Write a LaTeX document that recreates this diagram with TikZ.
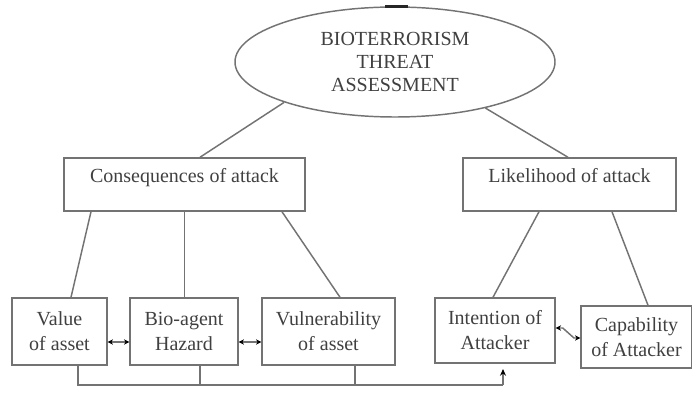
\documentclass[tikz,border=0pt]{standalone}
\usepackage{fontspec}
\setmainfont{Liberation Serif}
\usetikzlibrary{arrows.meta}
\usetikzlibrary{shapes.geometric, positioning}

\begin{document}
\begin{tikzpicture}[
    x=0.75pt, y=-0.75pt,
    >=Stealth,
    color=black!55, line width=1.1pt,
    every node/.style={font=\fontsize{15}{18.75}\selectfont, text=black!75},
    ell/.style={ellipse, draw, align=center, minimum width=240pt, minimum height=82.5pt,
        font=\fontsize{15}{17.25}\selectfont},
    hd/.style={draw, inner xsep=0pt, inner ysep=0pt, text height=18.75pt, text depth=21pt},
    lf/.style={draw, align=center, inner sep=2pt},
    dbl/.style={{Stealth[length=4pt,width=4pt,black]}-{Stealth[length=4pt,width=4pt,black]}},
]
    \useasboundingbox (0,0) rectangle (692,395);

    \node[ell] (threat) at (395,62) {BIOTERRORISM\\THREAT\\ASSESSMENT};
    \node[hd, minimum width=180.75pt, anchor=base] (cons) at (184.5,183) {Consequences of attack\hspace{8pt}};
    \node[hd, minimum width=159.75pt, anchor=base] (like) at (569.5,183) {Likelihood of attack};

    \node[lf, minimum width=71.25pt, minimum height=50.25pt] (value)  at (59.5,331.5)  {Value\\of asset};
    \node[lf, minimum width=81pt,    minimum height=50.25pt] (bio)    at (184,331.5)   {Bio-agent\\Hazard};
    \node[lf, minimum width=99.75pt, minimum height=50.25pt] (vuln)   at (328.5,331.5) {Vulnerability\\of asset};
    \node[lf, minimum width=90pt,    minimum height=48.75pt] (intent) at (495,330.5)   {Intention of\\Attacker};
    \node[lf, minimum width=83.25pt, minimum height=46.5pt]  (cap)    at (636.5,337)   {Capability\\of Attacker};

    % mark on top of the ellipse
    \draw[line width=2.2pt, black!85] (385,0 |- threat.north) -- (408,0 |- threat.north);

    % threat -> cons, like
    \draw (threat.200) -- (200,0 |- cons.north);
    \draw (threat.-27) -- (568,0 |- like.north);

    % cons -> value, bio, vuln
    \draw (91,0 |- cons.south) -- (71,0 |- value.north);
    \draw (cons.south) -- (cons.south |- bio.north);
    \draw (282,0 |- cons.south) -- (340,0 |- vuln.north);

    % like -> intent, cap
    \draw (539,0 |- like.south) -- (493,0 |- intent.north);
    \draw (612,0 |- like.south) -- (648,0 |- cap.north);

    % links between the lower boxes
    \draw[dbl] (value.east |- 0,342) -- (bio.west |- 0,342);
    \draw[dbl] (bio.east |- 0,342) -- (vuln.west |- 0,342);
    \draw[dbl] (intent.east |- 0,328) -- ++(7,0) -- (574,338) -- (cap.west |- 0,338);

    % feed back into intention
    \coordinate (bl) at (78,385);
    \coordinate (br) at (503,385);
    \draw (bl |- value.south) -- (bl) -- (br);
    \draw (200,0 |- bio.south) -- (200,0 |- bl);
    \draw (355,0 |- vuln.south) -- (355,0 |- bl);
    \draw[-{Stealth[length=5pt,width=4.5pt,black]}, shorten >=4pt] (br) -- (br |- intent.south);

\end{tikzpicture}
\end{document}
